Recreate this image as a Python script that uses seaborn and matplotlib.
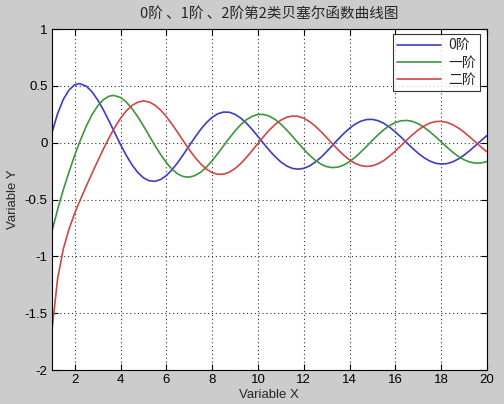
import matplotlib
matplotlib.use("Agg")
import matplotlib.pyplot as plt
import seaborn as sns
import pandas as pd

# sample points
x_vals = [1.0, 1.25, 1.5, 1.75, 2.0, 2.2, 2.5, 2.75, 3.0, 3.25, 3.5, 3.7,
          4.0, 4.25, 4.5, 4.75, 5.0, 5.25, 5.5, 5.75, 6.0, 6.25, 6.5, 6.75,
          7.0, 7.25, 7.5, 7.75, 8.0, 8.25, 8.5, 8.75, 9.0, 9.25, 9.5, 9.75,
          10.0, 10.25, 10.5, 10.75, 11.0, 11.25, 11.5, 11.75, 12.0, 12.25, 12.5, 12.75,
          13.0, 13.25, 13.5, 13.75, 14.0, 14.25, 14.5, 14.75, 15.0, 15.25, 15.5, 15.75,
          16.0, 16.25, 16.5, 16.75, 17.0, 17.25, 17.5, 17.75, 18.0, 18.25, 18.5, 18.75,
          19.0, 19.25, 19.5, 19.75, 20.0]
y_order0 = [0.0883, 0.2570, 0.3825, 0.4650, 0.5104, 0.5208, 0.4981, 0.4486, 0.3769, 0.2883, 0.1890, 0.1061,
            -0.0169, -0.1117, -0.1947, -0.2610, -0.3085, -0.3345, -0.3395, -0.3231, -0.2882, -0.2368, -0.1732, -0.1014,
            -0.0260, 0.0484, 0.1173, 0.1770, 0.2235, 0.2554, 0.2700, 0.2685, 0.2499, 0.2169, 0.1712, 0.1164,
            0.0557, -0.0069, -0.0675, -0.1226, -0.1689, -0.2038, -0.2252, -0.2326, -0.2252, -0.2044, -0.1712, -0.1283,
            -0.0781, -0.0243, 0.0301, 0.0816, 0.1271, 0.1642, 0.1902, 0.2043, 0.2055, 0.1940, 0.1707, 0.1372,
            0.0958, 0.0492, 0.0002, -0.0481, -0.0927, -0.1309, -0.1604, -0.1797, -0.1876, -0.1838, -0.1686, -0.1434,
            -0.1096, -0.0694, -0.0255, 0.0195, 0.0627]
y_order1 = [-0.7812, -0.5860, -0.4123, -0.2562, -0.1070, 0.0006, 0.1459, 0.2459, 0.3247, 0.3796, 0.4102, 0.4167,
            0.3979, 0.3579, 0.3001, 0.2287, 0.1479, 0.0619, -0.0238, -0.1040, -0.1750, -0.2330, -0.2753, -0.2981,
            -0.3027, -0.2887, -0.2590, -0.2139, -0.1581, -0.0937, -0.0261, 0.0413, 0.1043, 0.1592, 0.2032, 0.2333,
            0.2490, 0.2487, 0.2337, 0.2044, 0.1637, 0.1136, 0.0579, -0.0002, -0.0571, -0.1093, -0.1538, -0.1879,
            -0.2101, -0.2187, -0.2140, -0.1961, -0.1664, -0.1273, -0.0810, -0.0304, 0.0211, 0.0705, 0.1148, 0.1513,
            0.1785, 0.1932, 0.1965, 0.1875, 0.1670, 0.1368, 0.0986, 0.0547, 0.0082, -0.0382, -0.0817, -0.1195,
            -0.1495, -0.1699, -0.1796, -0.1780, -0.1655]
y_order2 = [-1.6507, -1.1950, -0.9322, -0.7578, -0.6174, -0.5203, -0.3814, -0.2698, -0.1604, -0.0547, 0.0454, 0.1191,
            0.2159, 0.2801, 0.3281, 0.3573, 0.3677, 0.3581, 0.3308, 0.2869, 0.2299, 0.1622, 0.0885, 0.0131,
            -0.0605, -0.1280, -0.1864, -0.2322, -0.2630, -0.2781, -0.2761, -0.2591, -0.2267, -0.1825, -0.1284, -0.0685,
            -0.0059, 0.0554, 0.1120, 0.1606, 0.1987, 0.2240, 0.2353, 0.2326, 0.2157, 0.1866, 0.1466, 0.0988,
            0.0458, -0.0087, -0.0618, -0.1101, -0.1509, -0.1821, -0.2014, -0.2084, -0.2027, -0.1848, -0.1559, -0.1180,
            -0.0735, -0.0254, 0.0236, 0.0705, 0.1123, 0.1468, 0.1717, 0.1859, 0.1885, 0.1796, 0.1598, 0.1307,
            0.0939, 0.0517, 0.0071, -0.0375, -0.0793]
series_names = ["0阶", "一阶", "二阶"]
line_colors = ["#3c3cc4", "#3c963c", "#d04646"]

df = pd.DataFrame({"x": x_vals * 3,
                   "y": y_order0 + y_order1 + y_order2,
                   "order": sum([[n] * len(x_vals) for n in series_names], [])})

sns.set_style("ticks")
plt.rcParams["font.family"] = ["Liberation Sans", "Noto Sans CJK SC", "DejaVu Sans"]

fig = plt.figure(figsize=(5.04, 4.04), dpi=100, facecolor="#cccccc")
ax = fig.add_axes([0.103, 0.084, 0.863, 0.844])
ax.set_facecolor("white")

sns.lineplot(data=df, x="x", y="y", hue="order", palette=line_colors,
             hue_order=series_names, linewidth=1.2, ax=ax, legend=True)

ax.set_xlim(1, 20)
ax.set_ylim(-2, 1)
ax.set_xticks(range(2, 21, 2))
ax.set_yticks([-2, -1.5, -1, -0.5, 0, 0.5, 1])
ax.set_yticklabels(["-2", "-1.5", "-1", "-0.5", "0", "0.5", "1"])
ax.grid(True, color="#333333", linestyle=(0, (1, 2.5)), linewidth=0.8)
ax.tick_params(direction="in", top=True, right=True, length=4, labelsize=9.5,
               colors="black", pad=3)
for sp in ax.spines.values():
    sp.set_color("black")
    sp.set_linewidth(0.8)

ax.set_xlabel("Variable X", fontsize=9.5, labelpad=2)
ax.set_ylabel("Variable Y", fontsize=9.5, labelpad=4)
ax.set_title("0阶 、1阶 、2阶第2类贝塞尔函数曲线图", fontsize=10.5, pad=8,
             family=["Noto Sans CJK SC", "DejaVu Sans"])

leg = ax.legend(loc="upper right", bbox_to_anchor=(0.985, 0.985), fontsize=10,
                frameon=True, fancybox=False, handlelength=3.2, borderpad=0.3,
                labelspacing=0.25, handletextpad=0.5, borderaxespad=0)
leg.get_frame().set_edgecolor("black")
leg.get_frame().set_linewidth(0.8)
for t in leg.get_texts():
    t.set_family(["Noto Sans CJK SC", "DejaVu Sans"])

fig.savefig("out.png", dpi=100, facecolor=fig.get_facecolor())
